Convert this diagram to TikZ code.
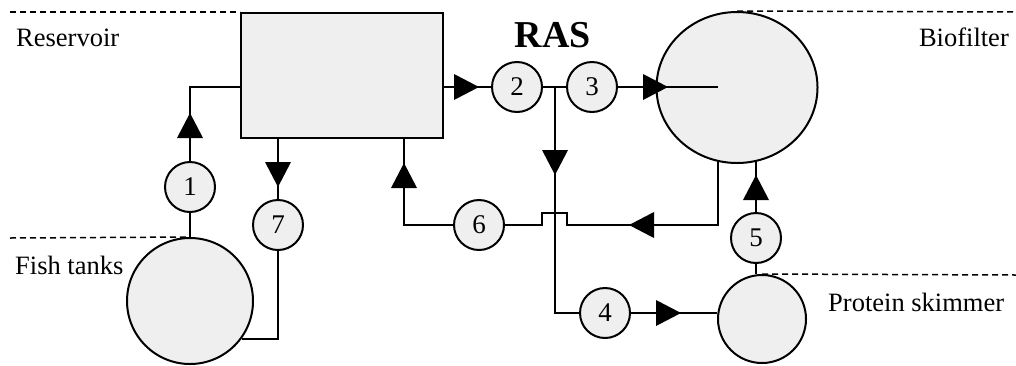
\documentclass[tikz,border=0pt]{standalone}
\usepackage{fontspec}
\setmainfont{Liberation Serif}
\usetikzlibrary{shapes.geometric,calc}
\definecolor{tankfill}{RGB}{239,239,239}
\begin{document}
\begin{tikzpicture}[x=1pt,y=-1pt,
  pipe/.style={line width=2pt, line join=miter},
  unit/.style={draw, line width=2pt, fill=tankfill, inner sep=0pt},
  pump/.style={circle, unit, minimum size=50pt, font=\fontsize{27}{30}\selectfont},
  lbl/.style={font=\fontsize{26.5}{30}\selectfont, inner sep=0pt},
  zone/.style={line width=1.5pt, dash pattern=on 6pt off 4pt},
  arrowhead/.pic={\fill (0,0) -- (-25,13) -- (-25,-13) -- cycle;}]
\useasboundingbox (0,0) rectangle (1016,365);

% zone separators
\coordinate (zl1) at (10,12);
\coordinate (zr1) at (1016,12);
\coordinate (zl2) at (10,238);
\coordinate (zr2) at (1016,275);

% units
\node[unit, rectangle, minimum width=202pt, minimum height=125pt, anchor=north west] (res) at (240,12) {};
\node[unit, ellipse, minimum width=161pt, minimum height=151pt] (bio) at (737,87.5) {};
\node[unit, circle, minimum size=126pt] (fish) at (190,301) {};
\node[unit, circle, minimum size=88pt] (skim) at (762,319) {};

% pumps
\node[pump] (p1) at (190,187) {1};
\node[pump] (p2) at (517,87) {2};
\node[pump] (p3) at (592,87) {3};
\node[pump] (p4) at (605,313) {4};
\node[pump] (p5) at (756,238) {5};
\node[pump] (p6) at (479,225) {6};
\node[pump] (p7) at (278,225) {7};

% helper points
\coordinate (J) at ($(p2.east)!0.5!(p3.west)$);
\coordinate (bfin) at (718,87);
\coordinate (bfout) at (718,161);
\coordinate (bfret) at (756,161);
\coordinate (jumpA) at (567,225);
\coordinate (jumpB) at (542,225);
\coordinate (resret) at (404,137);

% dashed zone lines
\draw[zone] (zl1) -- (res.north west);
\draw[zone] (bio.north) -- (zr1);
\draw[zone] (zl2) -- (fish.north);
\draw[zone] (skim.north) -- (zr2);

% pipes
\draw[pipe] (fish.north) -- (p1.south);
\draw[pipe] (p1.north) |- (res.west |- p2);
\pic[rotate=90] at (190,113) {arrowhead};

\draw[pipe] (res.south -| p7) -- (p7.north);
\pic[rotate=-90] at (278,187) {arrowhead};
\draw[pipe] (p7.south) |- (fish.-36);

\draw[pipe] (res.east |- p2) -- (p2.west);
\pic at (479,87) {arrowhead};
\draw[pipe] (p2.east) -- (p3.west);
\draw[pipe] (p3.east) -- (bfin);
\pic at (668,87) {arrowhead};

\draw[pipe] (J) |- (p4.west);
\pic[rotate=-90] at (555,175) {arrowhead};
\draw[pipe] (p4.east) -- (p4.east -| skim.west);
\pic at (681,313) {arrowhead};

\draw[pipe] (skim.north -| p5) -- (p5.south);
\draw[pipe] (p5.north) -- (bfret);
\pic[rotate=90] at (756,175) {arrowhead};

\draw[pipe] (bfout) |- (jumpA) -- ++(0,-12) -| (jumpB) -- (p6.east);
\pic[rotate=180] at (629,225) {arrowhead};
\draw[pipe] (p6.west) -| (resret);
\pic[rotate=90] at (404,163) {arrowhead};

% labels
\node[lbl, anchor=base west] (tres) at (16,46) {Reservoir};
\node[lbl, anchor=base west] (tfish) at (15,274) {Fish tanks};
\node[lbl, anchor=base east] (tbio) at (1009,46) {Biofilter};
\node[lbl, anchor=base west] (tskim) at (828,311) {Protein skimmer};
\node[font=\fontsize{38}{40}\selectfont\bfseries, anchor=base, inner sep=0pt] (ras) at (553,47) {RAS};
\end{tikzpicture}
\end{document}
